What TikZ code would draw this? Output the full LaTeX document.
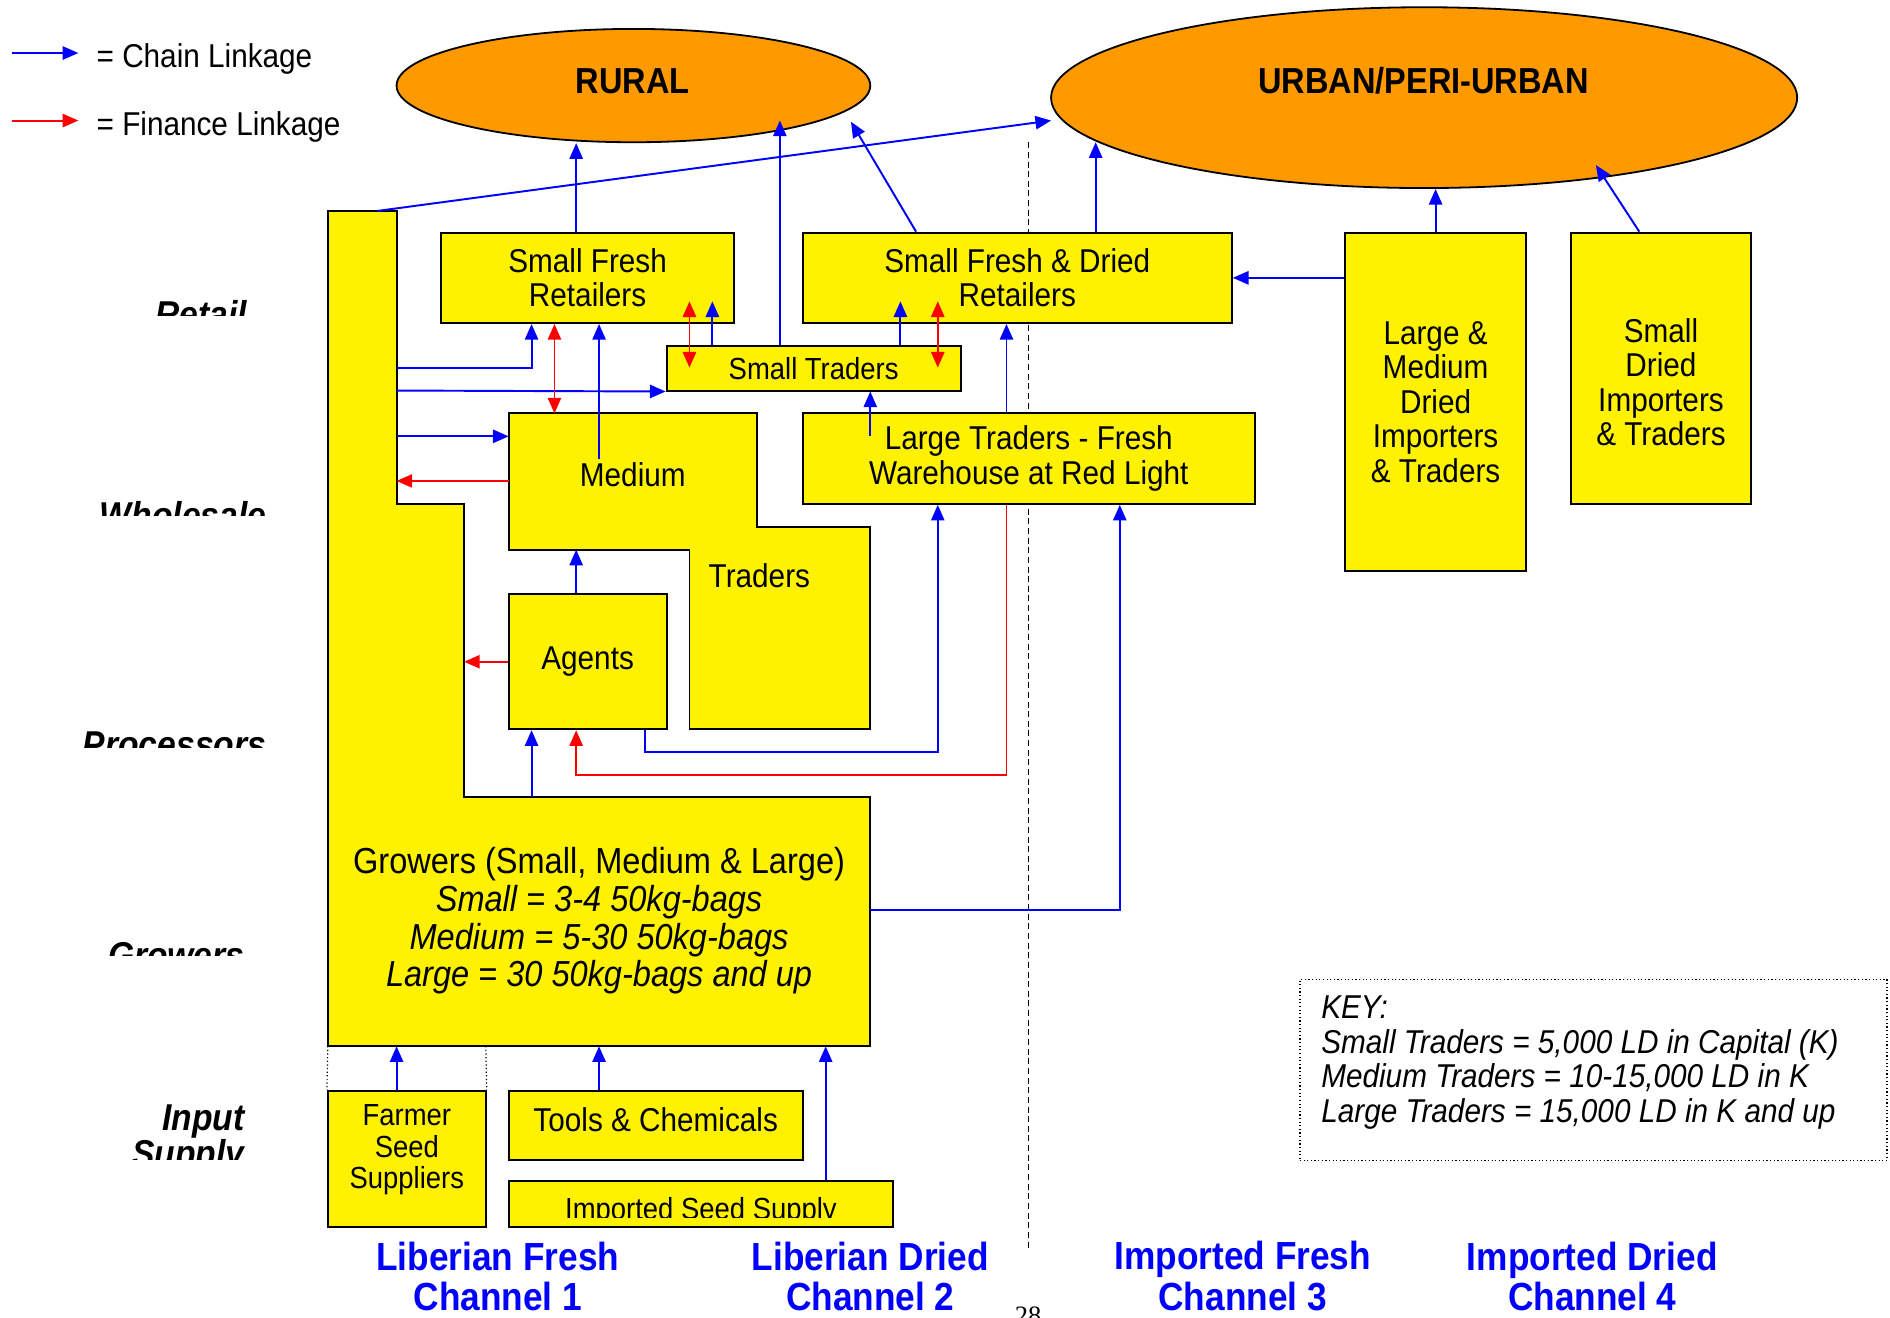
\documentclass[tikz,border=0pt]{standalone}
\usepackage{fontspec}
\setmainfont{Liberation Sans}[FakeStretch=0.9]
\newfontfamily\pagenumfont{Liberation Serif}
\usetikzlibrary{shapes.geometric,arrows.meta}
\definecolor{marketorange}{RGB}{255,153,0}
\newcommand\boxtxt{\fontsize{27.4}{28.6}\selectfont}
\newcommand\smalltxt{\fontsize{25.3}{26}\selectfont}
\newcommand\growtxt{\fontsize{30}{31.2}\selectfont}
\newcommand\chantxt{\bfseries\fontsize{32.5}{34}\selectfont}
\newcommand\rowtxt{\bfseries\itshape\fontsize{31}{30}\selectfont}

\begin{document}
\begin{tikzpicture}[x=1pt,y=-1pt,
        >={Triangle[length=13pt,width=11pt]},
        box/.style={draw,fill=yellow,line width=1.6pt,align=center,inner sep=0pt,font=\boxtxt},
        place/.style={ellipse,draw,fill=marketorange,line width=1.5pt,inner sep=0pt},
        placetxt/.style={font=\bfseries\fontsize{30}{30}\selectfont},
        chain/.style={->,blue,line width=1.6pt},
        finance/.style={->,red,line width=1.6pt},
        rowlab/.style={anchor=north east,inner sep=0pt,align=right,font=\rowtxt},
        channel/.style={blue,align=center,font=\chantxt}]
        \useasboundingbox (0,0) rectangle (1568,1093);
        \clip (0,0) rectangle (1568,1093);

        % divider between liberian and imported channels
        \draw[dash pattern=on 5pt off 3pt,line width=0.8pt] (853,118) -- (853,1037);

        % markets
        \node[place,minimum width=393pt,minimum height=94pt] (rural) at (525.5,71) {};
        \node[placetxt] at (525,67) {RURAL};
        \node[place,minimum width=619pt,minimum height=150pt] (urban) at (1181.5,81) {};
        \node[placetxt] at (1181,67) {URBAN/PERI-URBAN};

        % fresh column + growers, medium traders
        \draw[fill=yellow,line width=1.6pt] (272,175) -- (329,175) -- (329,418) -- (385,418) -- (385,661) -- (722,661) -- (722,868) -- (272,868) -- cycle;
        \draw[fill=yellow,line width=1.6pt] (422,343) -- (628,343) -- (628,437) -- (722,437) -- (722,605) -- (572,605) -- (572,456) -- (422,456) -- cycle;
        \node[font=\boxtxt] (medium) at (525,394) {Medium};
        \node[font=\boxtxt] (traders) at (630,478) {Traders};
        \node[font=\growtxt,align=center] (growers) at (497,764) {Growers (Small, Medium \& Large)\\\itshape Small = 3-4 50kg-bags\\\itshape Medium = 5-30 50kg-bags\\\itshape Large = 30 50kg-bags and up};

        % boxes
        \node[box,minimum width=243pt,minimum height=75pt] (sfr) at (487.5,230.5) {Small Fresh\\Retailers};
        \node[box,minimum width=356pt,minimum height=75pt] (sfdr) at (844,230.5) {Small Fresh \& Dried\\Retailers};
        \node[box,minimum width=244pt,minimum height=37pt,font=\smalltxt] (st) at (675,305.5) {Small Traders};
        \node[box,minimum width=375pt,minimum height=75pt] (ltf) at (853.5,380.5) {Large Traders - Fresh\\Warehouse at Red Light};
        \node[box,minimum width=150pt,minimum height=281pt] (lmd) at (1191,333.5) {Large \&\\Medium\\Dried\\Importers\\\& Traders};
        \node[box,minimum width=150pt,minimum height=225pt] (sdi) at (1378,305.5) {};
        \node[font=\boxtxt,align=center] at (1378,317) {Small\\Dried\\Importers\\\& Traders};
        \node[box,minimum width=131pt,minimum height=112pt] (agents) at (487.5,549) {Agents};
        \node[box,minimum width=131pt,minimum height=113pt] (fss) at (337.5,961.5) {};
        \node[font=\smalltxt,align=center] at (337.5,954) {Farmer\\Seed\\Suppliers};
        \node[box,minimum width=244pt,minimum height=57pt] (tools) at (544,933.5) {};
        \node[font=\boxtxt] at (544,929) {Tools \& Chemicals};
        \node[box,minimum width=319pt,minimum height=38pt] (iss) at (581.5,999) {};
        \begin{scope}
                \clip (422,981) rectangle (741,1010);
                \node[font=\smalltxt,anchor=base] at (581.5,1012) {Imported Seed Supply};
        \end{scope}
        \draw[dotted,line width=1pt] (272,868) -- (fss.north west);
        \draw[dotted,line width=1pt] (403,868) -- (fss.north east);

        % chain linkages
        \draw[chain] (313,175) -- (872,100);
        \draw[chain] (sfr.north -| 478,0) -- (rural.south -| 478,0);
        \draw[chain] (st.north -| 647,0) -- (647,100);
        \draw[chain] (sfdr.north -| 760,0) -- (706,101);
        \draw[chain] (sfdr.north -| 909,0) -- (909,118);
        \draw[chain] (lmd.north) -- (urban.south -| lmd.north);
        \draw[chain] (sdi.north -| 1360,0) -- (1324,137);
        \draw[chain] (lmd.west |- sfdr.east) -- (sfdr.east);
        \draw[chain] (329,305) -| (sfr.south -| 441,0);
        \draw[chain] (medium.north -| 497,343) -- (sfr.south -| 497,0);
        \draw[chain] (329,324) -- (st.south west);
        \draw[chain] (st.north -| 591,0) -- (591,250);
        \draw[chain] (st.north -| 747,0) -- (747,250);
        \draw[chain] (722,362) -- (st.south -| 722,0);
        \draw[chain] (ltf.north -| 835,0) -- (sfdr.south -| 835,0);
        \draw[chain] (329,362) -- (422,362);
        \draw[chain] (agents.north -| 478,0) -- (478,456);
        \draw[chain] (441,661) -- (agents.south -| 441,0);
        \draw[chain] (agents.south -| 535,0) |- (778,624) -- (ltf.south -| 778,0);
        \draw[chain] (722,755) -| (ltf.south -| 929,0);
        \draw[chain] (fss.north -| 329,0) -- (329,868);
        \draw[chain] (tools.north -| 497,0) -- (497,868);
        \draw[chain] (iss.north -| 685,0) -- (685,868);

        % finance linkages
        \draw[finance,<->] (sfr.south -| 460,0) -- (460,343);
        \draw[finance,<->] (572,250) -- (572,305);
        \draw[finance,<->] (778,250) -- (778,305);
        \draw[finance] (422,399) -- (329,399);
        \draw[finance] (agents.west) -- (385,549);
        \draw[finance] (ltf.south -| 835,0) |- (478,643) -- (agents.south -| 478,0);

        % legend
        \draw[chain] (10,44) -- (65,44);
        \node[font=\boxtxt,anchor=base west,inner sep=0pt] at (80,56) {= Chain Linkage};
        \draw[finance] (10,100) -- (65,100);
        \node[font=\boxtxt,anchor=base west,inner sep=0pt] at (80,112) {= Finance Linkage};

        % levels
        \begin{scope}
                \clip (0,230) rectangle (240,262);
                \node[rowlab] (retail) at (205,249) {Retail};
        \end{scope}
        \begin{scope}
                \clip (0,400) rectangle (240,428);
                \node[rowlab] (wholesale) at (221,416) {Wholesale};
        \end{scope}
        \begin{scope}
                \clip (0,590) rectangle (240,620);
                \node[rowlab] (processors) at (221,607) {Processors};
        \end{scope}
        \begin{scope}
                \clip (0,765) rectangle (240,793);
                \node[rowlab] (growlab) at (203,782) {Growers};
        \end{scope}
        \begin{scope}
                \clip (0,900) rectangle (240,962);
                \node[rowlab] (inputlab) at (203,916) {Input\\Supply};
        \end{scope}

        % key
        \node[draw,dotted,line width=1pt,minimum width=487pt,minimum height=150pt,anchor=north west,inner sep=0pt] (key) at (1078,812) {};
        \node[font=\boxtxt\itshape,align=left,anchor=north west,inner sep=0pt] at (1096,826) {KEY:\\Small Traders = 5,000 LD in Capital (K)\\Medium Traders = 10-15,000 LD in K\\Large Traders = 15,000 LD in K and up};

        % channels
        \node[channel] (ch1) at (413,1059) {Liberian Fresh\\Channel 1};
        \node[channel] (ch2) at (722,1059) {Liberian Dried\\Channel 2};
        \node[channel] (ch3) at (1031,1059) {Imported Fresh\\Channel 3};
        \node[channel] (ch4) at (1321,1059) {Imported Dried\\Channel 4};
        \node[font=\pagenumfont\fontsize{22}{22}\selectfont,anchor=north,inner sep=0pt] at (853,1084) {28};
\end{tikzpicture}
\end{document}
